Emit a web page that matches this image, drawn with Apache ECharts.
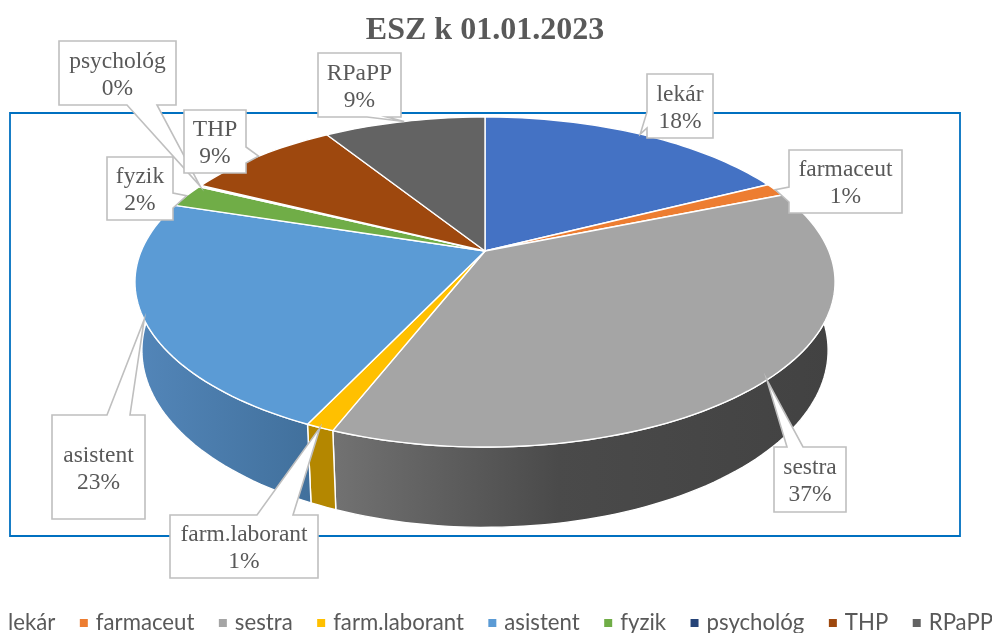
<!DOCTYPE html>
<html>
<head>
<meta charset="utf-8">
<title>ESZ k 01.01.2023</title>
<script src="https://cdn.jsdelivr.net/npm/echarts@6/dist/echarts.min.js"></script>
<style>
  html, body { margin: 0; padding: 0; background: #fff; overflow: hidden; }
  #chart { width: 992px; height: 633px; }
</style>
</head>
<body>
<div id="chart"></div>
<script>
// data (shares in %)
var categories = ['lekár', 'farmaceut', 'sestra', 'farm.laborant', 'asistent', 'fyzik', 'psychológ', 'THP', 'RPaPP'];
var shares = [17.55, 1.3, 37.1, 1.1, 22.85, 2.3, 0.15, 8.7, 8.95];

var colors = ['#4472C4', '#ED7D31', '#A5A5A5', '#FFC000', '#5B9BD5', '#70AD47', '#264478', '#9E480E', '#636363'];
// side wall shading, only the slices that reach the front need it
var wallColors = {
  'sestra': [{ offset: 0, color: '#727272' }, { offset: 0.45, color: '#4a4a4a' }, { offset: 1, color: '#424242' }],
  'farm.laborant': [{ offset: 0, color: '#B48700' }, { offset: 1, color: '#B48700' }],
  'asistent': [{ offset: 0, color: '#5386B9' }, { offset: 1, color: '#41709C' }]
};

// callout boxes [left, top, right, bottom], wedge side and where the wedge leaves the box
var callouts = [
  { box: [647, 74, 713, 138], side: 'left', base: [112, 128] },
  { box: [789, 150, 902, 213], side: 'left', base: [187, 202] },
  { box: [774, 447, 846, 512], side: 'top', base: [787, 803] },
  { box: [170, 515, 318, 578], side: 'top', base: [257, 293] },
  { box: [52, 415, 145, 519], side: 'top', base: [107, 130] },
  { box: [107, 157, 173, 220], side: 'right', base: [193, 208] },
  { box: [59, 41, 176, 105], side: 'bottom', base: [127, 157] },
  { box: [184, 110, 246, 173], side: 'right', base: [147, 163] },
  { box: [318, 53, 401, 117], side: 'bottom', base: [367, 387] }
];

// perspective of the tilted disc: top face and bottom face
var topFace = { cx: 485, cy: 251, a: 343.8, b: 159.2 };
var bottomFace = { cx: 485, cy: 317, a: 337, b: 170.8 };
var tilt = 0.188;

function project(face, deg) {
  var r = deg * Math.PI / 180;
  var u = Math.sin(r);
  var v = -Math.cos(r);
  var s = 1 - tilt * v;
  return [face.cx + face.a * u / s, face.cy + face.b * v / s];
}

function arc(face, from, to) {
  var pts = [];
  var n = Math.max(1, Math.ceil(Math.abs(to - from) / 1.5));
  for (var i = 0; i <= n; i++) {
    pts.push(project(face, from + (to - from) * i / n));
  }
  return pts;
}

var total = shares.reduce(function (a, b) { return a + b; }, 0);
var starts = [];
shares.reduce(function (sum, s, i) {
  starts[i] = sum / total * 360;
  return sum + s;
}, 0);

function calloutPoints(c, tip) {
  var l = c.box[0], t = c.box[1], r = c.box[2], b = c.box[3];
  var p0 = c.base[0], p1 = c.base[1];
  if (c.side === 'top') return [[l, t], [p0, t], tip, [p1, t], [r, t], [r, b], [l, b]];
  if (c.side === 'right') return [[l, t], [r, t], [r, p0], tip, [r, p1], [r, b], [l, b]];
  if (c.side === 'bottom') return [[l, t], [r, t], [r, b], [p1, b], tip, [p0, b], [l, b]];
  return [[l, t], [r, t], [r, b], [l, b], [l, p1], tip, [l, p0]];
}

function makeRenderItem(i) {
  return function (params, api) {
    var sweep = api.value(0) / total * 360;
    var from = starts[i];
    var to = from + sweep;
    var children = [];

    // side wall, only the part facing the viewer
    var wFrom = Math.max(from, 90);
    var wTo = Math.min(to, 270);
    if (wTo > wFrom) {
      var upper = arc(topFace, wFrom, wTo);
      var lower = arc(bottomFace, wFrom, wTo);
      var xs = upper.concat(lower).map(function (p) { return p[0]; });
      var stops = wallColors[categories[i]] || [{ offset: 0, color: colors[i] }, { offset: 1, color: colors[i] }];
      children.push({
        type: 'polygon',
        z2: 10,
        shape: { points: upper.concat(lower.reverse()) },
        style: {
          fill: new echarts.graphic.LinearGradient(Math.min.apply(null, xs), 0, Math.max.apply(null, xs), 0, stops, true),
          stroke: '#fff',
          lineWidth: 1.4
        }
      });
    }

    // top face
    children.push({
      type: 'polygon',
      z2: 20,
      shape: { points: [[topFace.cx, topFace.cy]].concat(arc(topFace, from, to)) },
      style: { fill: colors[i], stroke: '#fff', lineWidth: 1.4, lineJoin: 'round' }
    });

    // callout
    var c = callouts[i];
    children.push({
      type: 'polygon',
      z2: 30 + i * 2,
      shape: { points: calloutPoints(c, project(topFace, (from + to) / 2)) },
      style: { fill: '#fff', stroke: '#BFBFBF', lineWidth: 1.6 }
    });
    children.push({
      type: 'text',
      z2: 31 + i * 2,
      style: {
        text: categories[i] + '\n' + Math.round(api.value(0) / total * 100) + '%',
        x: (c.box[0] + c.box[2]) / 2,
        y: (c.box[1] + c.box[3]) / 2 + 2,
        align: 'center',
        verticalAlign: 'middle',
        lineHeight: 27,
        font: '23.5px "Liberation Serif"',
        fill: '#595959'
      }
    });
    return { type: 'group', children: children };
  };
}

var chart = echarts.init(document.getElementById('chart'));
chart.setOption({
  animation: false,
  backgroundColor: '#fff',
  title: {
    text: 'ESZ k 01.01.2023',
    left: 480,
    top: 10,
    textAlign: 'center',
    textStyle: { fontFamily: 'Liberation Serif', fontSize: 32, fontWeight: 'bold', color: '#595959' }
  },
  legend: {
    data: categories,
    left: -13,
    top: 607,
    width: 1100,
    icon: 'rect',
    itemWidth: 8,
    itemHeight: 8,
    itemGap: 24.5,
    textStyle: { fontFamily: 'Lato', fontSize: 22.2, color: '#595959', padding: [0, 0, 0, 3] }
  },
  graphic: [{
    type: 'rect',
    z: 0,
    shape: { x: 10, y: 113, width: 950, height: 423 },
    style: { fill: 'none', stroke: '#0070C0', lineWidth: 1.8 }
  }],
  series: categories.map(function (name, i) {
    return {
      type: 'custom',
      name: name,
      coordinateSystem: 'none',
      z: 2,
      silent: true,
      itemStyle: { color: colors[i] },
      data: [[shares[i]]],
      renderItem: makeRenderItem(i)
    };
  })
});
</script>
</body>
</html>
